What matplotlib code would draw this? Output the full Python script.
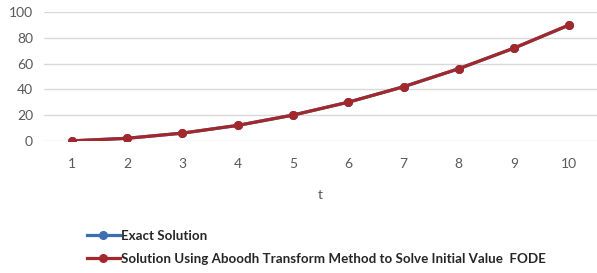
import matplotlib
matplotlib.use('Agg')
from matplotlib import pyplot as plt

t = [1, 2, 3, 4, 5, 6, 7, 8, 9, 10]
exact = [0, 2, 6, 12, 20, 30, 42, 56, 72, 90]
aboodh = [0, 2, 6, 12, 20, 30, 42, 56, 72, 90]
y_ticks = [0, 20, 40, 60, 80, 100]

plt.rcParams['font.family'] = ['Lato', 'DejaVu Sans']

fig = plt.figure(figsize=(5.97, 2.73), dpi=100)
ax = fig.add_axes([0.074, 0.484, 0.926, 0.472])

ax.plot(t, exact, color='#3D6DB3', lw=2.3, marker='o', ms=5.5,
        label='Exact Solution')
ax.plot(t, aboodh, color='#A3282B', lw=2.3, marker='o', ms=5.5,
        label='Solution Using Aboodh Transform Method to Solve Initial Value  FODE')

ax.set_xlim(0.5, 10.5)
ax.set_ylim(0, 100)
ax.set_xticks(t)
ax.set_yticks(y_ticks)
ax.grid(axis='y', color='#D9D9D9', lw=1)
ax.set_axisbelow(True)
for s in ['top', 'right', 'left', 'bottom']:
    ax.spines[s].set_visible(False)
ax.tick_params(axis='both', length=0, labelsize=10, labelcolor='#595959')
ax.tick_params(axis='x', pad=12)
ax.tick_params(axis='y', pad=8)
ax.set_xlabel('t', fontsize=10, color='#595959', labelpad=14)
for lbl in ax.get_yticklabels():
    lbl.set_clip_on(False)

leg = fig.legend(loc='upper left', bbox_to_anchor=(0.137, 0.178), frameon=False,
                 prop={'weight': 'bold', 'size': 9.6}, handlelength=2.45,
                 handletextpad=0.1, labelspacing=0.85, borderaxespad=0)
for txt in leg.get_texts():
    txt.set_color('#262626')

fig.savefig('out.png', dpi=100)
